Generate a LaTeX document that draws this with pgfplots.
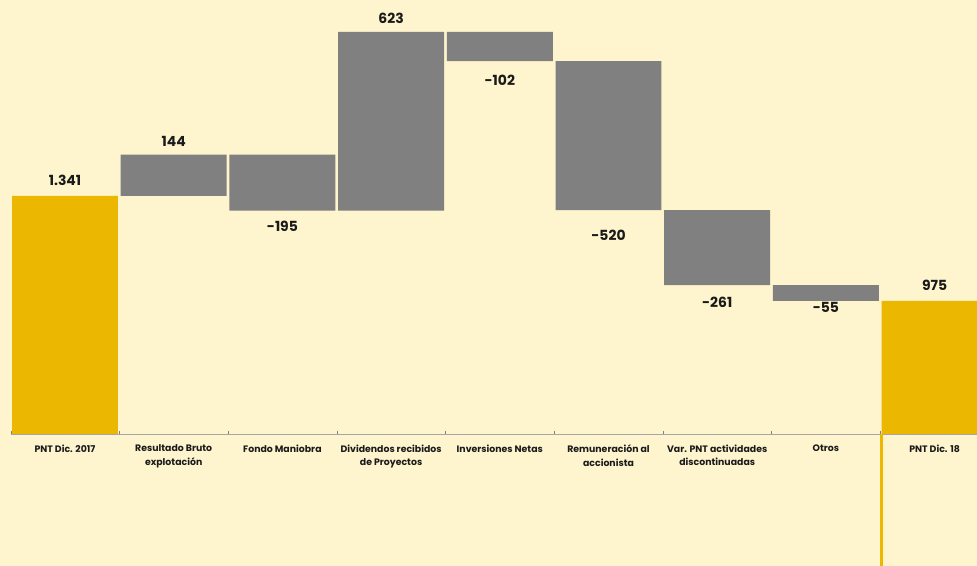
\documentclass[border=0pt]{standalone}
\usepackage{pgfplots}
\pgfplotsset{compat=1.18}
\usepackage{fontspec}
\setmainfont{Poppins}
\definecolor{bg}{HTML}{FEF4CD}
\definecolor{gold}{HTML}{EBB700}
\definecolor{bargray}{HTML}{808080}
\definecolor{axisgray}{HTML}{A6A6A6}
\definecolor{txt}{HTML}{1A1A1A}
\tikzset{lbl/.style={font=\fontsize{14}{16}\selectfont\bfseries, text=txt}}
\begin{document}
\begin{tikzpicture}
\path[use as bounding box, fill=bg] (0,0) rectangle (977bp,566bp);
\begin{axis}[
  at={(10.65bp,132bp)}, anchor=south west,
  scale only axis, width=978.3bp, height=434bp,
  xmin=-0.5, xmax=8.5, ymin=510, ymax=2024.7,
  axis x line*=bottom, axis y line=none,
  axis line style={axisgray, line width=0.8bp, -},
  xtick={0,...,8},
  xticklabels={PNT Dic. 2017, Resultado Bruto\\explotación, Fondo Maniobra, Dividendos recibidos\\de Proyectos, Inversiones Netas, Remuneración al\\accionista, Var. PNT actividades\\discontinuadas, Otros, PNT Dic. 18},
  xticklabel style={align=center, font=\fontsize{9.4}{14}\selectfont\bfseries, text=txt, anchor=north, yshift=-7bp},
  major tick length=0pt,
  minor xtick={-0.5,0.5,...,8.5},
  minor tick length=3bp, tick align=inside,
  ybar stacked, bar width=0.975,
  after end axis/.code={\draw[gold, line width=3bp] (axis cs:7.515,510) -- (axis cs:7.515,0);},
]
\addplot[draw=none, fill=none] coordinates {(0,0) (1,1341) (2,1290) (3,1290) (4,1811) (5,1291) (6,1030) (7,975) (8,0)};
\addplot[draw=none, fill=bargray] coordinates {(0,0) (1,144) (2,195) (3,623) (4,102) (5,520) (6,261) (7,55) (8,0)};
\addplot[draw=none, fill=gold] coordinates {(0,1341) (1,0) (2,0) (3,0) (4,0) (5,0) (6,0) (7,0) (8,975)};
\node[lbl, yshift=16bp] at (axis cs:0,1341) {1.341};
\node[lbl, yshift=13.7bp] at (axis cs:1,1485) {144};
\node[lbl, yshift=-15.5bp] at (axis cs:2,1290) {-195};
\node[lbl, yshift=14bp] at (axis cs:3,1913) {623};
\node[lbl, yshift=-18.7bp] at (axis cs:4,1811) {-102};
\node[lbl, yshift=-24.8bp] at (axis cs:5,1291) {-520};
\node[lbl, yshift=-17bp] at (axis cs:6,1030) {-261};
\node[lbl, yshift=-6.2bp] at (axis cs:7,975) {-55};
\node[lbl, yshift=15.8bp] at (axis cs:8,975) {975};
\end{axis}
\end{tikzpicture}
\end{document}
